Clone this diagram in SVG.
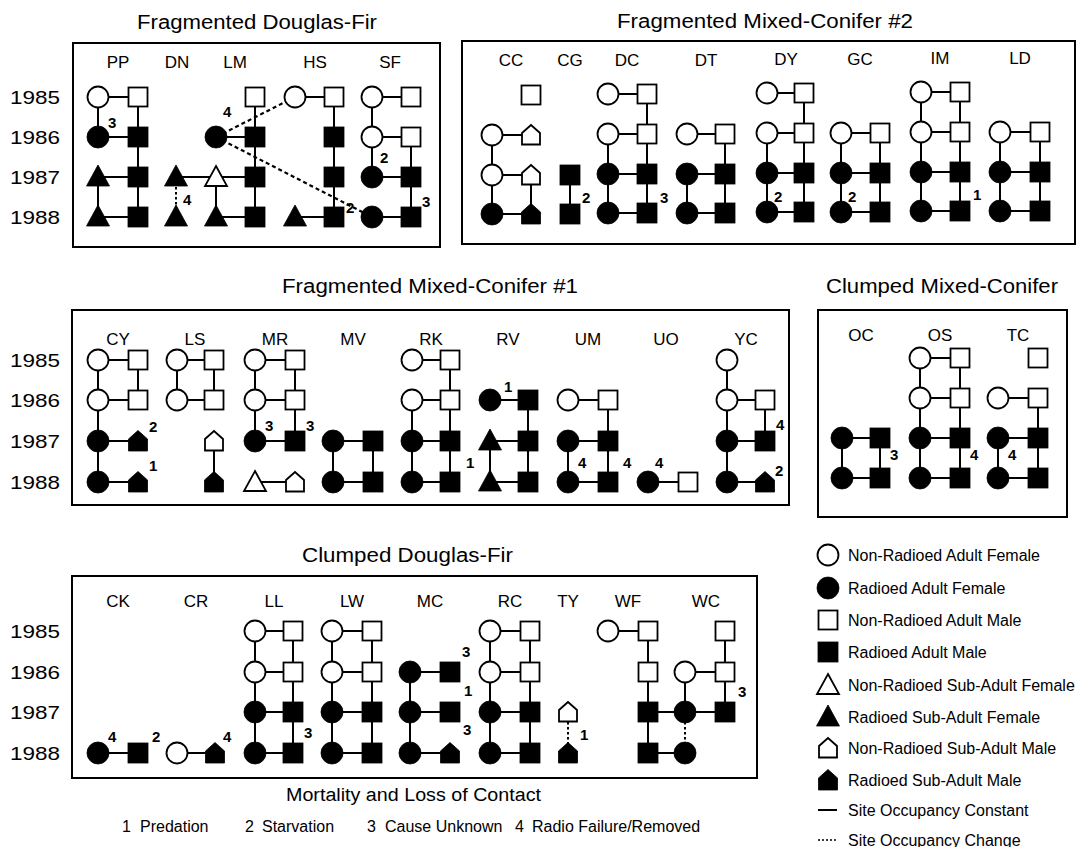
<svg xmlns="http://www.w3.org/2000/svg" xmlns:xlink="http://www.w3.org/1999/xlink" width="1079" height="847" viewBox="0 0 1079 847">
<style>
text{font-family:'Liberation Sans',Arial,Helvetica,sans-serif;fill:#000}
.ti{font-size:20px}
.yr{font-size:19px}
.lb{font-size:17px;text-anchor:middle}
.n{font-size:15px;font-weight:bold}
.lg{font-size:16px}
.bt{font-size:18px}
.o{fill:#fff;stroke:#000;stroke-width:1.8}
.k{fill:#000;stroke:#000;stroke-width:0.8}
.box{fill:none;stroke:#000;stroke-width:2}
.c{fill:none;stroke:#000;stroke-width:2}
.d{fill:none;stroke:#000;stroke-width:2.2;stroke-dasharray:4 3}
.dt{fill:none;stroke:#000;stroke-width:2;stroke-dasharray:2.5 2.5}
</style>
<defs>
<circle id="fo" r="10.5" class="o"/>
<circle id="ff" r="11" class="k"/>
<rect id="mo" x="-9.5" y="-9.5" width="19" height="19" class="o"/>
<rect id="mf" x="-10" y="-10" width="20" height="20" class="k"/>
<polygon id="to" points="0,-11 11,9 -11,9" class="o"/>
<polygon id="tf" points="0,-12 11.5,9 -11.5,9" class="k"/>
<polygon id="po" points="-9,9.5 -9,-2 0,-10 9,-2 9,9.5" class="o"/>
<polygon id="pf" points="-9.5,10 -9.5,-2 0,-10.5 9.5,-2 9.5,10" class="k"/>
</defs>
<rect width="1079" height="847" fill="#fff"/>

<g id="panels">
<rect class="box" x="73" y="43" width="367" height="204"/>
<rect class="box" x="462" y="41" width="613" height="203"/>
<rect class="box" x="72" y="310" width="717" height="195"/>
<rect class="box" x="818" y="310" width="249" height="207"/>
<rect class="box" x="72" y="576" width="685" height="202"/>
</g>

<g id="titles">
<text class="ti" x="137" y="29" textLength="240" lengthAdjust="spacingAndGlyphs">Fragmented Douglas-Fir</text>
<text class="ti" x="617" y="28" textLength="296" lengthAdjust="spacingAndGlyphs">Fragmented Mixed-Conifer #2</text>
<text class="ti" x="282" y="293" textLength="296" lengthAdjust="spacingAndGlyphs">Fragmented Mixed-Conifer #1</text>
<text class="ti" x="826" y="293" textLength="232" lengthAdjust="spacingAndGlyphs">Clumped Mixed-Conifer</text>
<text class="ti" x="302" y="562" textLength="211" lengthAdjust="spacingAndGlyphs">Clumped Douglas-Fir</text>
</g>

<g id="years">
<text class="yr" x="10" y="104" textLength="50" lengthAdjust="spacingAndGlyphs">1985</text>
<text class="yr" x="10" y="144" textLength="50" lengthAdjust="spacingAndGlyphs">1986</text>
<text class="yr" x="10" y="184" textLength="50" lengthAdjust="spacingAndGlyphs">1987</text>
<text class="yr" x="10" y="224" textLength="50" lengthAdjust="spacingAndGlyphs">1988</text>
<text class="yr" x="10" y="367" textLength="50" lengthAdjust="spacingAndGlyphs">1985</text>
<text class="yr" x="10" y="407" textLength="50" lengthAdjust="spacingAndGlyphs">1986</text>
<text class="yr" x="10" y="448" textLength="50" lengthAdjust="spacingAndGlyphs">1987</text>
<text class="yr" x="10" y="489" textLength="50" lengthAdjust="spacingAndGlyphs">1988</text>
<text class="yr" x="10" y="638" textLength="50" lengthAdjust="spacingAndGlyphs">1985</text>
<text class="yr" x="10" y="679" textLength="50" lengthAdjust="spacingAndGlyphs">1986</text>
<text class="yr" x="10" y="719" textLength="50" lengthAdjust="spacingAndGlyphs">1987</text>
<text class="yr" x="10" y="760" textLength="50" lengthAdjust="spacingAndGlyphs">1988</text>
</g>

<g id="column-labels">
<text class="lb" x="118" y="68">PP</text>
<text class="lb" x="177" y="68">DN</text>
<text class="lb" x="235" y="68">LM</text>
<text class="lb" x="315" y="68">HS</text>
<text class="lb" x="390" y="68">SF</text>
<text class="lb" x="511" y="66">CC</text>
<text class="lb" x="570" y="66">CG</text>
<text class="lb" x="627" y="66">DC</text>
<text class="lb" x="706" y="66">DT</text>
<text class="lb" x="786" y="65">DY</text>
<text class="lb" x="860" y="65">GC</text>
<text class="lb" x="940" y="64">IM</text>
<text class="lb" x="1020" y="64">LD</text>
<text class="lb" x="118" y="345">CY</text>
<text class="lb" x="195" y="345">LS</text>
<text class="lb" x="275" y="345">MR</text>
<text class="lb" x="353" y="345">MV</text>
<text class="lb" x="431" y="345">RK</text>
<text class="lb" x="508" y="345">RV</text>
<text class="lb" x="588" y="345">UM</text>
<text class="lb" x="666" y="345">UO</text>
<text class="lb" x="746" y="345">YC</text>
<text class="lb" x="861" y="341">OC</text>
<text class="lb" x="940" y="341">OS</text>
<text class="lb" x="1018" y="341">TC</text>
<text class="lb" x="118" y="607">CK</text>
<text class="lb" x="196" y="607">CR</text>
<text class="lb" x="274" y="607">LL</text>
<text class="lb" x="352" y="607">LW</text>
<text class="lb" x="430" y="607">MC</text>
<text class="lb" x="510" y="607">RC</text>
<text class="lb" x="568" y="607">TY</text>
<text class="lb" x="628" y="607">WF</text>
<text class="lb" x="706" y="607">WC</text>
</g>

<g id="connectors">
<path class="c" d="M98 97H138M98 97V137M98 137H138M138 97V217M98 177H138M98 177V217M98 217H138"/>
<path class="c" d="M176 177H216M255 97V217M216 137H255M216 177H255M216 177V217M216 217H255"/>
<path class="c" d="M295 97H334M334 97V217M295 217H334"/>
<path class="c" d="M372 97H411M372 97V177M372 137H411M411 137V217M372 177H411M372 217H411"/>
<path class="d" d="M295 97L216 137M216 137L372 217"/>
<path class="dt" d="M176 177V217"/>
<path class="c" d="M492 135H531M492 135V214M492 175H531M531 175V214M492 214H531M570 175V214"/>
<path class="c" d="M608 94H647M647 94V213M608 134H647M608 134V213M608 174H647M608 213H647"/>
<path class="c" d="M687 134H725M725 134V213M687 174H725M687 174V213M687 213H725"/>
<path class="c" d="M767 93H804M804 93V212M767 133H804M767 133V212M767 173H804M767 212H804"/>
<path class="c" d="M841 133H880M841 133V212M880 133V212M841 173H880M841 212H880"/>
<path class="c" d="M921 92H960M921 92V211M960 92V211M921 132H960M921 172H960M921 211H960"/>
<path class="c" d="M1000 132H1040M1000 132V211M1040 132V211M1000 172H1040M1000 211H1040"/>
<path class="c" d="M98 360H138M98 360V482M138 360V400M98 400H138M98 441H138M98 482H138"/>
<path class="c" d="M177 360H214M177 360V400M214 360V400M177 400H214M214 441V482"/>
<path class="c" d="M255 360H295M255 360V441M295 360V441M255 400H295M255 441H295M255 482H295"/>
<path class="c" d="M333 441H373M333 441V482M373 441V482M333 482H373"/>
<path class="c" d="M412 360H450M450 360V482M412 400H450M412 400V482M412 441H450M412 482H450"/>
<path class="c" d="M490 400H528M528 400V482M490 441H528M490 441V482M490 482H528"/>
<path class="c" d="M568 400H608M608 400V482M568 441H608M568 441V482M568 482H608M648 482H688"/>
<path class="c" d="M727 360V482M727 400H765M765 400V441M727 441H765M727 482H765"/>
<path class="c" d="M842 438H880M842 438V478M880 438V478M842 478H880"/>
<path class="c" d="M920 358H960M920 358V478M960 358V478M920 398H960M920 438H960M920 478H960"/>
<path class="c" d="M998 398H1038M1038 398V478M998 438H1038M998 438V478M998 478H1038"/>
<path class="c" d="M98 753H138M177 753H215"/>
<path class="c" d="M255 631H293M255 631V753M293 631V753M255 672H293M255 712H293M255 753H293"/>
<path class="c" d="M332 631H372M332 631V753M372 631V753M332 672H372M332 712H372M332 753H372"/>
<path class="c" d="M410 672H450M410 672V753M410 712H450M410 753H450"/>
<path class="c" d="M490 631H530M490 631V753M530 631V753M490 672H530M490 712H530M490 753H530"/>
<path class="c" d="M608 631H648M648 631V753M648 712H685M648 753H685"/>
<path class="c" d="M725 631V712M685 672H725M685 672V712M685 712H725"/>
<path class="dt" d="M568 712V753M685 712V753"/>
</g>

<g id="pp">
<use href="#fo" x="98" y="97"/><use href="#mo" x="138" y="97"/>
<use href="#ff" x="98" y="137"/><use href="#mf" x="138" y="137"/>
<use href="#tf" x="98" y="177"/><use href="#mf" x="138" y="177"/>
<use href="#tf" x="98" y="217"/><use href="#mf" x="138" y="217"/>
<text class="n" x="108" y="128">3</text>
</g>
<g id="dn">
<use href="#tf" x="176" y="177"/><use href="#tf" x="176" y="217"/>
<text class="n" x="183" y="205">4</text>
</g>
<g id="lm">
<use href="#mo" x="255" y="97"/>
<use href="#ff" x="216" y="137"/><use href="#mf" x="255" y="137"/>
<use href="#to" x="216" y="177"/><use href="#mf" x="255" y="177"/>
<use href="#tf" x="216" y="217"/><use href="#mf" x="255" y="217"/>
<text class="n" x="223" y="117">4</text>
</g>
<g id="hs">
<use href="#fo" x="295" y="97"/><use href="#mo" x="334" y="97"/>
<use href="#mf" x="334" y="137"/><use href="#mf" x="334" y="177"/>
<use href="#tf" x="295" y="217"/><use href="#mf" x="334" y="217"/>
<text class="n" x="346" y="213">2</text>
</g>
<g id="sf">
<use href="#fo" x="372" y="97"/><use href="#mo" x="411" y="97"/>
<use href="#fo" x="372" y="137"/><use href="#mo" x="411" y="137"/>
<use href="#ff" x="372" y="177"/><use href="#mf" x="411" y="177"/>
<use href="#ff" x="372" y="217"/><use href="#mf" x="411" y="217"/>
<text class="n" x="380" y="163">2</text><text class="n" x="422" y="207">3</text>
</g>

<g id="cc">
<use href="#mo" x="531" y="95"/>
<use href="#fo" x="492" y="135"/><use href="#po" x="531" y="135"/>
<use href="#fo" x="492" y="175"/><use href="#po" x="531" y="175"/>
<use href="#ff" x="492" y="214"/><use href="#pf" x="531" y="214"/>
</g>
<g id="cg">
<use href="#mf" x="570" y="175"/><use href="#mf" x="570" y="214"/>
<text class="n" x="582" y="203">2</text>
</g>
<g id="dc">
<use href="#fo" x="608" y="94"/><use href="#mo" x="647" y="94"/>
<use href="#fo" x="608" y="134"/><use href="#mo" x="647" y="134"/>
<use href="#ff" x="608" y="174"/><use href="#mf" x="647" y="174"/>
<use href="#ff" x="608" y="213"/><use href="#mf" x="647" y="213"/>
<text class="n" x="660" y="203">3</text>
</g>
<g id="dt">
<use href="#fo" x="687" y="134"/><use href="#mo" x="725" y="134"/>
<use href="#ff" x="687" y="174"/><use href="#mf" x="725" y="174"/>
<use href="#ff" x="687" y="213"/><use href="#mf" x="725" y="213"/>
</g>
<g id="dy">
<use href="#fo" x="767" y="93"/><use href="#mo" x="804" y="93"/>
<use href="#fo" x="767" y="133"/><use href="#mo" x="804" y="133"/>
<use href="#ff" x="767" y="173"/><use href="#mf" x="804" y="173"/>
<use href="#ff" x="767" y="212"/><use href="#mf" x="804" y="212"/>
<text class="n" x="774" y="202">2</text>
</g>
<g id="gc">
<use href="#fo" x="841" y="133"/><use href="#mo" x="880" y="133"/>
<use href="#ff" x="841" y="173"/><use href="#mf" x="880" y="173"/>
<use href="#ff" x="841" y="212"/><use href="#mf" x="880" y="212"/>
<text class="n" x="848" y="202">2</text>
</g>
<g id="im">
<use href="#fo" x="921" y="92"/><use href="#mo" x="960" y="92"/>
<use href="#fo" x="921" y="132"/><use href="#mo" x="960" y="132"/>
<use href="#ff" x="921" y="172"/><use href="#mf" x="960" y="172"/>
<use href="#ff" x="921" y="211"/><use href="#mf" x="960" y="211"/>
<text class="n" x="973" y="200">1</text>
</g>
<g id="ld">
<use href="#fo" x="1000" y="132"/><use href="#mo" x="1040" y="132"/>
<use href="#ff" x="1000" y="172"/><use href="#mf" x="1040" y="172"/>
<use href="#ff" x="1000" y="211"/><use href="#mf" x="1040" y="211"/>
</g>

<g id="cy">
<use href="#fo" x="98" y="360"/><use href="#mo" x="138" y="360"/>
<use href="#fo" x="98" y="400"/><use href="#mo" x="138" y="400"/>
<use href="#ff" x="98" y="441"/><use href="#pf" x="138" y="441"/>
<use href="#ff" x="98" y="482"/><use href="#pf" x="138" y="482"/>
<text class="n" x="149" y="432">2</text><text class="n" x="149" y="471">1</text>
</g>
<g id="ls">
<use href="#fo" x="177" y="360"/><use href="#mo" x="214" y="360"/>
<use href="#fo" x="177" y="400"/><use href="#mo" x="214" y="400"/>
<use href="#po" x="214" y="441"/><use href="#pf" x="214" y="482"/>
</g>
<g id="mr">
<use href="#fo" x="255" y="360"/><use href="#mo" x="295" y="360"/>
<use href="#fo" x="255" y="400"/><use href="#mo" x="295" y="400"/>
<use href="#ff" x="255" y="441"/><use href="#mf" x="295" y="441"/>
<use href="#to" x="255" y="482"/><use href="#po" x="295" y="482"/>
<text class="n" x="265" y="431">3</text><text class="n" x="306" y="431">3</text>
</g>
<g id="mv">
<use href="#ff" x="333" y="441"/><use href="#mf" x="373" y="441"/>
<use href="#ff" x="333" y="482"/><use href="#mf" x="373" y="482"/>
</g>
<g id="rk">
<use href="#fo" x="412" y="360"/><use href="#mo" x="450" y="360"/>
<use href="#fo" x="412" y="400"/><use href="#mo" x="450" y="400"/>
<use href="#ff" x="412" y="441"/><use href="#mf" x="450" y="441"/>
<use href="#ff" x="412" y="482"/><use href="#mf" x="450" y="482"/>
<text class="n" x="466" y="468">1</text>
</g>
<g id="rv">
<use href="#ff" x="490" y="400"/><use href="#mf" x="528" y="400"/>
<use href="#tf" x="490" y="441"/><use href="#mf" x="528" y="441"/>
<use href="#tf" x="490" y="482"/><use href="#mf" x="528" y="482"/>
<text class="n" x="504" y="392">1</text>
</g>
<g id="um">
<use href="#fo" x="568" y="400"/><use href="#mo" x="608" y="400"/>
<use href="#ff" x="568" y="441"/><use href="#mf" x="608" y="441"/>
<use href="#ff" x="568" y="482"/><use href="#mf" x="608" y="482"/>
<text class="n" x="578" y="468">4</text><text class="n" x="623" y="468">4</text>
</g>
<g id="uo">
<use href="#ff" x="648" y="482"/><use href="#mo" x="688" y="482"/>
<text class="n" x="655" y="468">4</text>
</g>
<g id="yc">
<use href="#fo" x="727" y="360"/>
<use href="#fo" x="727" y="400"/><use href="#mo" x="765" y="400"/>
<use href="#ff" x="727" y="441"/><use href="#mf" x="765" y="441"/>
<use href="#ff" x="727" y="482"/><use href="#pf" x="765" y="482"/>
<text class="n" x="776" y="430">4</text><text class="n" x="775" y="476">2</text>
</g>

<g id="oc">
<use href="#ff" x="842" y="438"/><use href="#mf" x="880" y="438"/>
<use href="#ff" x="842" y="478"/><use href="#mf" x="880" y="478"/>
<text class="n" x="890" y="460">3</text>
</g>
<g id="os">
<use href="#fo" x="920" y="358"/><use href="#mo" x="960" y="358"/>
<use href="#fo" x="920" y="398"/><use href="#mo" x="960" y="398"/>
<use href="#ff" x="920" y="438"/><use href="#mf" x="960" y="438"/>
<use href="#ff" x="920" y="478"/><use href="#mf" x="960" y="478"/>
<text class="n" x="970" y="460">4</text>
</g>
<g id="tc">
<use href="#mo" x="1038" y="358"/>
<use href="#fo" x="998" y="398"/><use href="#mo" x="1038" y="398"/>
<use href="#ff" x="998" y="438"/><use href="#mf" x="1038" y="438"/>
<use href="#ff" x="998" y="478"/><use href="#mf" x="1038" y="478"/>
<text class="n" x="1008" y="460">4</text>
</g>

<g id="ck">
<use href="#ff" x="98" y="753"/><use href="#mf" x="138" y="753"/>
<text class="n" x="108" y="742">4</text><text class="n" x="152" y="742">2</text>
</g>
<g id="cr">
<use href="#fo" x="177" y="753"/><use href="#pf" x="215" y="753"/>
<text class="n" x="223" y="742">4</text>
</g>
<g id="ll">
<use href="#fo" x="255" y="631"/><use href="#mo" x="293" y="631"/>
<use href="#fo" x="255" y="672"/><use href="#mo" x="293" y="672"/>
<use href="#ff" x="255" y="712"/><use href="#mf" x="293" y="712"/>
<use href="#ff" x="255" y="753"/><use href="#mf" x="293" y="753"/>
<text class="n" x="304" y="738">3</text>
</g>
<g id="lw">
<use href="#fo" x="332" y="631"/><use href="#mo" x="372" y="631"/>
<use href="#fo" x="332" y="672"/><use href="#mo" x="372" y="672"/>
<use href="#ff" x="332" y="712"/><use href="#mf" x="372" y="712"/>
<use href="#ff" x="332" y="753"/><use href="#mf" x="372" y="753"/>
</g>
<g id="mc">
<use href="#ff" x="410" y="672"/><use href="#mf" x="450" y="672"/>
<use href="#ff" x="410" y="712"/><use href="#mf" x="450" y="712"/>
<use href="#ff" x="410" y="753"/><use href="#pf" x="450" y="753"/>
<text class="n" x="462" y="657">3</text><text class="n" x="464" y="696">1</text><text class="n" x="463" y="735">3</text>
</g>
<g id="rc">
<use href="#fo" x="490" y="631"/><use href="#mo" x="530" y="631"/>
<use href="#fo" x="490" y="672"/><use href="#mo" x="530" y="672"/>
<use href="#ff" x="490" y="712"/><use href="#mf" x="530" y="712"/>
<use href="#ff" x="490" y="753"/><use href="#mf" x="530" y="753"/>
</g>
<g id="ty">
<use href="#po" x="568" y="712"/><use href="#pf" x="568" y="753"/>
<text class="n" x="580" y="740">1</text>
</g>
<g id="wf">
<use href="#fo" x="608" y="631"/><use href="#mo" x="648" y="631"/>
<use href="#mo" x="648" y="672"/><use href="#mf" x="648" y="712"/><use href="#mf" x="648" y="753"/>
</g>
<g id="wc">
<use href="#mo" x="725" y="631"/>
<use href="#fo" x="685" y="672"/><use href="#mo" x="725" y="672"/>
<use href="#ff" x="685" y="712"/><use href="#mf" x="725" y="712"/>
<use href="#ff" x="685" y="753"/>
<text class="n" x="738" y="697">3</text>
</g>

<g id="legend">
<use href="#fo" x="828" y="555"/><text class="lg" x="848" y="561" textLength="192" lengthAdjust="spacingAndGlyphs">Non-Radioed Adult Female</text>
<use href="#ff" x="828" y="588"/><text class="lg" x="848" y="594">Radioed Adult Female</text>
<use href="#mo" x="828" y="620"/><text class="lg" x="848" y="626">Non-Radioed Adult Male</text>
<use href="#mf" x="828" y="652"/><text class="lg" x="848" y="658">Radioed Adult Male</text>
<use href="#to" x="828" y="685"/><text class="lg" x="848" y="691">Non-Radioed Sub-Adult Female</text>
<use href="#tf" x="828" y="717"/><text class="lg" x="848" y="723">Radioed Sub-Adult Female</text>
<use href="#po" x="828" y="748"/><text class="lg" x="848" y="754">Non-Radioed Sub-Adult Male</text>
<use href="#pf" x="828" y="780"/><text class="lg" x="848" y="786">Radioed Sub-Adult Male</text>
<path class="c" d="M818 810H837"/><text class="lg" x="848" y="816">Site Occupancy Constant</text>
<path class="dt" d="M818 840H837" style="stroke-width:1.5;stroke-dasharray:2 2"/><text class="lg" x="848" y="846">Site Occupancy Change</text>
</g>

<g id="mortality-key">
<text class="bt" x="286" y="801" textLength="255" lengthAdjust="spacingAndGlyphs">Mortality and Loss of Contact</text>
<text class="lg" x="122" y="832">1</text><text class="lg" x="140" y="832">Predation</text>
<text class="lg" x="245" y="832">2</text><text class="lg" x="262" y="832">Starvation</text>
<text class="lg" x="367" y="832">3</text><text class="lg" x="385" y="832">Cause Unknown</text>
<text class="lg" x="515" y="832">4</text><text class="lg" x="532" y="832">Radio Failure/Removed</text>
</g>
</svg>
